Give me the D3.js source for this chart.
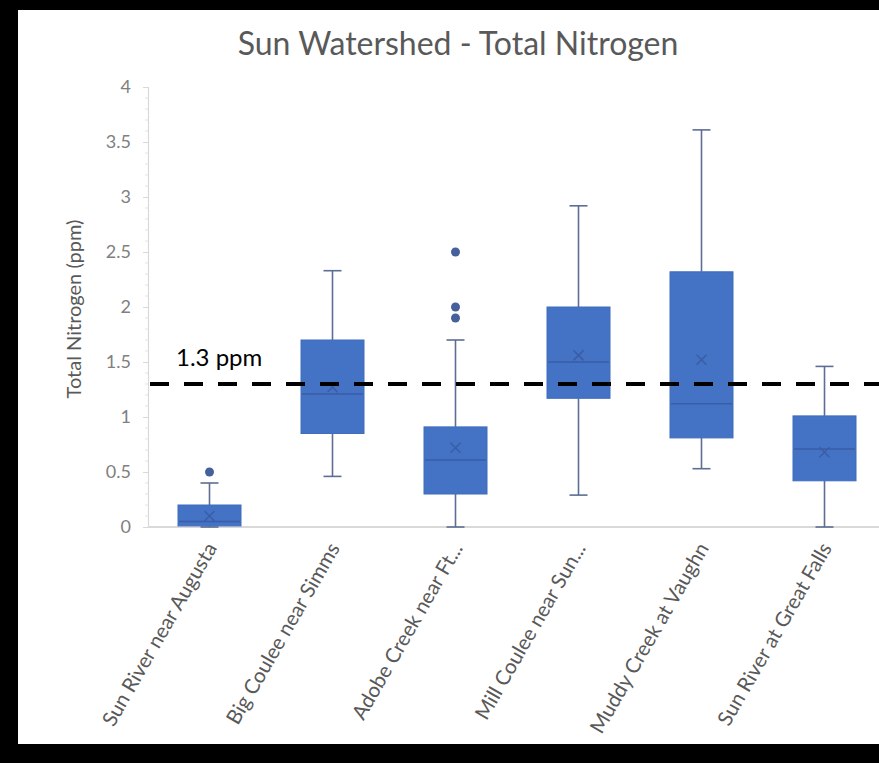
<!DOCTYPE html>
<html>
<head>
<meta charset="utf-8">
<script src="https://cdn.jsdelivr.net/npm/d3@7"></script>
<style>
  html, body { margin: 0; padding: 0; background: #000; }
  svg { display: block; }
</style>
</head>
<body>
<script>
// Sampling sites along the Sun River watershed
const sites = [
  "Sun River near Augusta",
  "Big Coulee near Simms",
  "Adobe Creek near Ft...",
  "Mill Coulee near Sun...",
  "Muddy Creek at Vaughn",
  "Sun River at Great Falls"
];

// Box-and-whisker statistics per site (ppm)
const whiskerLow  = [0.00, 0.46, 0.00, 0.29, 0.53, 0.00];
const quartile1   = [0.01, 0.85, 0.30, 1.17, 0.81, 0.42];
const median      = [0.05, 1.21, 0.61, 1.50, 1.12, 0.71];
const quartile3   = [0.20, 1.70, 0.91, 2.00, 2.32, 1.01];
const whiskerHigh = [0.40, 2.33, 1.70, 2.92, 3.61, 1.46];
const mean        = [0.10, 1.27, 0.72, 1.56, 1.52, 0.68];
const outliers    = [[0.50], [], [2.50, 2.00, 1.90], [], [], []];

// Y axis ticks and the reference threshold
const yTicks = [0, 0.5, 1, 1.5, 2, 2.5, 3, 3.5, 4];
const threshold = 1.3;
const thresholdLabel = "1.3 ppm";

const W = 879, H = 763;
const svg = d3.select("body").append("svg").attr("width", W).attr("height", H);

// white chart panel inside the black frame
svg.append("rect").attr("x", 18).attr("y", 10).attr("width", W - 18).attr("height", 734).attr("fill", "#fff");

const plot = { left: 148, right: 886, top: 87, bottom: 527 };

const x = d3.scaleBand().domain(sites).range([plot.left, plot.right]).paddingInner(0).paddingOuter(0);
const y = d3.scaleLinear().domain([0, 4]).range([plot.bottom, plot.top]);

const font = "Lato, 'Open Sans', sans-serif";
const grayText = "#595959";

// title
svg.append("text")
  .attr("x", 458).attr("y", 55)
  .attr("text-anchor", "middle")
  .attr("font-family", font).attr("font-size", 32)
  .attr("fill", grayText)
  .text("Sun Watershed - Total Nitrogen");

// y axis title
svg.append("text")
  .attr("transform", `translate(81,${(plot.top + plot.bottom) / 2 + 2}) rotate(-90)`)
  .attr("text-anchor", "middle")
  .attr("font-family", font).attr("font-size", 20)
  .attr("fill", grayText)
  .text("Total Nitrogen (ppm)");

// y axis: major ticks at 0.5 and minor ticks at 0.1
const yAxis = d3.axisLeft(y).tickValues(yTicks).tickSize(5).tickPadding(12).tickFormat(d3.format("~g"));
const gy = svg.append("g").attr("transform", `translate(${plot.left},0)`).call(yAxis);
gy.select(".domain").attr("stroke", "#d9d9d9").attr("stroke-width", 1.2);
gy.selectAll(".tick line").attr("stroke", "#d9d9d9");
gy.selectAll(".tick text").attr("font-family", font).attr("font-size", 18).attr("fill", "#808080");
const minor = d3.range(0, 4.0001, 0.1).filter(v => Math.abs(v * 2 - Math.round(v * 2)) > 1e-6);
svg.append("g").selectAll("line").data(minor).join("line")
  .attr("x1", plot.left - 3).attr("x2", plot.left)
  .attr("y1", d => y(d)).attr("y2", d => y(d))
  .attr("stroke", "#e3e3e3");

// category baseline
svg.append("line")
  .attr("x1", plot.left).attr("x2", W)
  .attr("y1", y(0)).attr("y2", y(0))
  .attr("stroke", "#d9d9d9").attr("stroke-width", 2);

// x axis labels, rotated
const labelG = svg.append("g");
sites.forEach((s, i) => {
  const cx = x(s) + x.bandwidth() / 2;
  labelG.append("text")
    .attr("transform", `translate(${cx + 8},${plot.bottom + 21}) rotate(-60)`)
    .attr("text-anchor", "end")
    .attr("font-family", font).attr("font-size", 20.5)
    .attr("fill", grayText)
    .text(s);
});

const boxW = 63, capW = 18;
const whiskerColor = "#5d6d93";
const boxFill = "#4472c4";
const markColor = "#3a5ea6";

const boxes = svg.append("g");
sites.forEach((s, i) => {
  const cx = x(s) + x.bandwidth() / 2;
  const g = boxes.append("g");
  // whiskers
  g.append("line").attr("x1", cx).attr("x2", cx)
    .attr("y1", y(quartile3[i])).attr("y2", y(whiskerHigh[i]))
    .attr("stroke", whiskerColor).attr("stroke-width", 1.6);
  g.append("line").attr("x1", cx).attr("x2", cx)
    .attr("y1", y(quartile1[i])).attr("y2", y(whiskerLow[i]))
    .attr("stroke", whiskerColor).attr("stroke-width", 1.6);
  [whiskerHigh[i], whiskerLow[i]].forEach(v => {
    g.append("line").attr("x1", cx - capW / 2).attr("x2", cx + capW / 2)
      .attr("y1", y(v)).attr("y2", y(v))
      .attr("stroke", whiskerColor).attr("stroke-width", 1.6);
  });
  // box
  g.append("rect")
    .attr("x", cx - boxW / 2).attr("width", boxW)
    .attr("y", y(quartile3[i])).attr("height", y(quartile1[i]) - y(quartile3[i]))
    .attr("fill", boxFill).attr("stroke", "#3f6cbd").attr("stroke-width", 1);
  // median
  g.append("line")
    .attr("x1", cx - boxW / 2 + 1).attr("x2", cx + boxW / 2 - 1)
    .attr("y1", y(median[i])).attr("y2", y(median[i]))
    .attr("stroke", markColor).attr("stroke-width", 1.5);
  // mean marker
  const m = 5, my = y(mean[i]);
  g.append("path")
    .attr("d", `M${cx - m},${my - m}L${cx + m},${my + m}M${cx - m},${my + m}L${cx + m},${my - m}`)
    .attr("stroke", markColor).attr("stroke-width", 1.5).attr("fill", "none");
  // outliers
  g.selectAll("circle").data(outliers[i]).join("circle")
    .attr("cx", cx).attr("cy", d => y(d)).attr("r", 4.5)
    .attr("fill", "#46609c");
});

// threshold line
svg.append("line")
  .attr("x1", plot.left + 2).attr("x2", W)
  .attr("y1", y(threshold)).attr("y2", y(threshold))
  .attr("stroke", "#000").attr("stroke-width", 4)
  .attr("stroke-dasharray", "19,15");

svg.append("text")
  .attr("x", 176).attr("y", y(threshold) - 18)
  .attr("font-family", font).attr("font-size", 24)
  .attr("fill", "#000")
  .text(thresholdLabel);
</script>
</body>
</html>
